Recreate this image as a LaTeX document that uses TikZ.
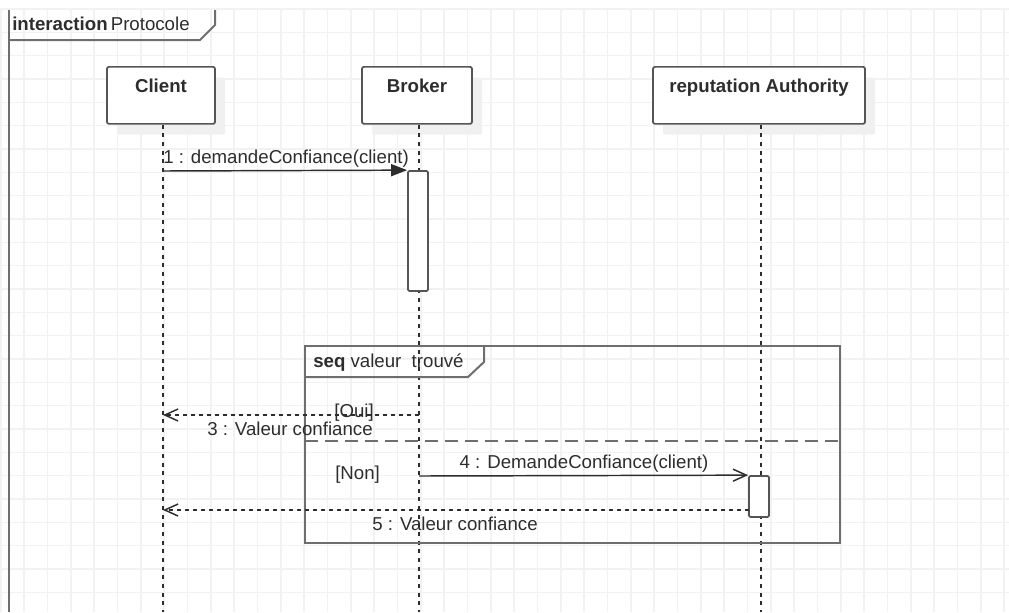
\documentclass[tikz,border=0pt]{standalone}
\usepackage{fontspec}
\setmainfont{Liberation Sans}
\usetikzlibrary{arrows.meta,shadows}

\definecolor{gridgray}{RGB}{242,242,242}
\definecolor{boxgray}{RGB}{85,85,85}
\definecolor{framegray}{RGB}{110,110,110}
\definecolor{inkgray}{RGB}{45,45,45}

\begin{document}
\begin{tikzpicture}[
	x=0.75pt, y=-0.75pt,
	font=\fontsize{14}{16}\selectfont,
	every node/.style={text=inkgray},
	gridline/.style={draw=gridgray, line width=1.2pt},
	frameline/.style={draw=framegray, line width=1.5pt},
	lifebox/.style={
		draw=boxgray,
		line width=1.3pt,
		fill=white,
		rounded corners=1.5pt,
		anchor=north,
		inner sep=0pt,
		text height=19.5pt,
		text depth=23.25pt,
		font=\fontsize{14}{16}\selectfont\bfseries,
		general shadow={fill=gray!12, shadow xshift=7.5pt, shadow yshift=-8pt}
	},
	lifeline/.style={draw=inkgray, line width=1.1pt, dash pattern=on 3pt off 3.5pt},
	activation/.style={draw=boxgray, line width=1.3pt, fill=white, rounded corners=1pt, minimum width=15pt, inner sep=0pt},
	callmsg/.style={draw=inkgray, line width=1.1pt, -{Triangle[length=12pt,width=9pt]}},
	asyncmsg/.style={draw=inkgray, line width=1.1pt, -{Straight Barb[length=10pt,width=9pt]}},
	replymsg/.style={draw=inkgray, line width=1.1pt, dash pattern=on 3pt off 3pt, -{Straight Barb[length=10pt,width=9pt]}},
	separator/.style={draw=framegray, line width=1.5pt, dash pattern=on 9.5pt off 5.5pt},
	msglabel/.style={inner sep=0pt}
]
\useasboundingbox (0,0) rectangle (1009,612);

\foreach \gx in {0,...,43}
	\draw[gridline] ({23.333*\gx+0.7},10) -- ({23.333*\gx+0.7},612);
\foreach \gy in {0,...,25}
	\draw[gridline] (0,{9+23.333*\gy}) -- (1009,{9+23.333*\gy});

\draw[frameline] (9,612) -- (9,10);
\draw[frameline] (215,10) -- (215,25) -- (200,40) -- (9,40);
\node[msglabel, anchor=base west] (frametitle) at (12,30) {\textbf{interaction}\,Protocole};

\node[lifebox, minimum width=81pt] (client) at (161,66) {Client};
\node[lifebox, minimum width=82.5pt] (broker) at (417,66) {Broker};
\node[lifebox, minimum width=159pt] (authority) at (759,66) {reputation Authority};

\coordinate (clientend) at (163,612);
\coordinate (brokerend) at (419,612);
\coordinate (authorityend) at (761,612);
\draw[lifeline] ([xshift=1.5pt]client.south) -- (clientend);
\draw[lifeline] ([xshift=1.5pt]broker.south) -- (brokerend);
\draw[lifeline] ([xshift=1.5pt]authority.south) -- (authorityend);

\node[activation, minimum height=90pt] (brokeract) at (418,231) {};
\node[activation, minimum height=30.75pt] (authorityact) at (759,496.5) {};

\coordinate (m1start) at (163,171);
\draw[callmsg] (m1start) -- (brokeract.north west);
\node[msglabel, anchor=base west] (m1label) at (163,163) {1 : demandeConfiance(client)};

\draw[frameline] (305,346) rectangle (840,543);
\draw[frameline] (305,377) -- (468,377) -- (484,362) -- (484,346);
\node[msglabel, anchor=base west] (seqtitle) at (313,367) {\textbf{seq} valeur\hspace{0.55em}trouvé};
\coordinate (sepleft) at (305,441);
\coordinate (sepright) at (840,441);
\draw[separator] (sepleft) -- (sepright);

\coordinate (m3start) at (419,415);
\coordinate (m3end) at (163,415);
\draw[replymsg] (m3start) -- (m3end);
\node[msglabel, anchor=base east] (ouiguard) at (374,417) {[Oui]};
\node[msglabel, anchor=base] (m3label) at (290,435) {3 : Valeur confiance};

\node[msglabel, anchor=base west] (nonguard) at (335,479) {[Non]};
\coordinate (m4start) at (419,476);
\draw[asyncmsg] (m4start) -- (authorityact.north west);
\node[msglabel, anchor=base] (m4label) at (584,468) {4 : DemandeConfiance(client)};

\coordinate (m5start) at (749,510);
\coordinate (m5end) at (163,510);
\draw[replymsg] (m5start) -- (m5end);
\node[msglabel, anchor=base] (m5label) at (455,530) {5 : Valeur confiance};
\end{tikzpicture}
\end{document}
